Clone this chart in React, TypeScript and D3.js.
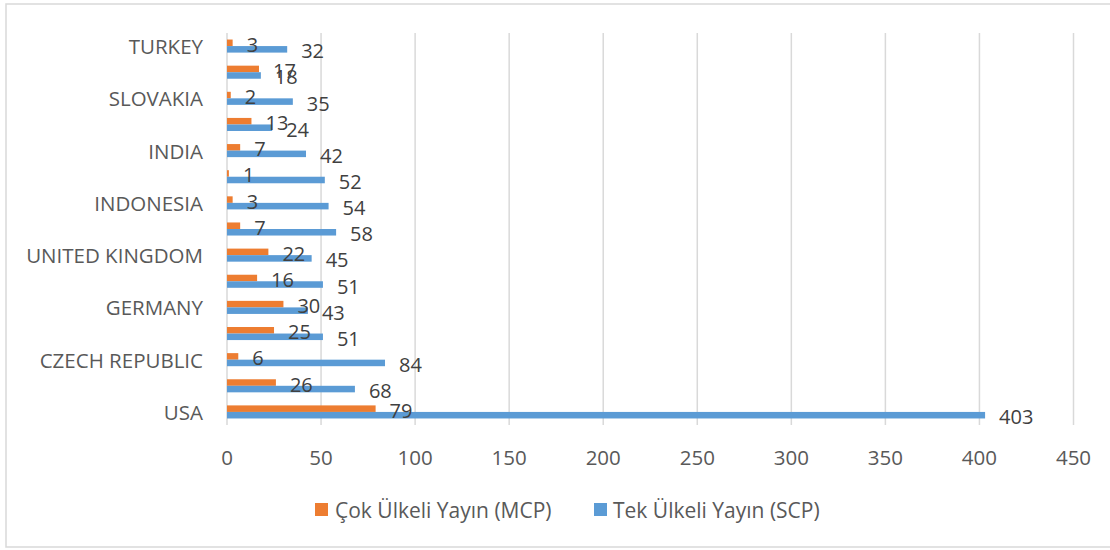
import React from "react";
import * as d3 from "d3";

// Categories from bottom (USA) to top (TURKEY); Excel shows every other label.
const categories = [
  "USA", "", "CZECH REPUBLIC", "", "GERMANY", "", "UNITED KINGDOM", "",
  "INDONESIA", "", "INDIA", "", "SLOVAKIA", "", "TURKEY",
];
const mcpValues = [79, 26, 6, 25, 30, 16, 22, 7, 3, 1, 7, 13, 2, 17, 3];
const scpValues = [403, 68, 84, 51, 43, 51, 45, 58, 54, 52, 42, 24, 35, 18, 32];
const xTicks = [0, 50, 100, 150, 200, 250, 300, 350, 400, 450];
const seriesNames = ["Çok Ülkeli Yayın (MCP)", "Tek Ülkeli Yayın (SCP)"];
const seriesColors = ["#ED7D31", "#5B9BD5"];

const W = 1110;
const H = 550;
const FONT = "'Open Sans', 'DejaVu Sans', sans-serif";

export default function App() {
  const x = d3.scaleLinear().domain([0, 450]).range([227, 1073.5]);
  const idx = d3.range(categories.length);
  const y = d3
    .scaleBand<number>()
    .domain(idx.slice().reverse())
    .range([33, 425])
    .paddingInner(0.5)
    .paddingOuter(0.25);
  const inner = d3
    .scaleBand<number>()
    .domain([0, 1])
    .range([0, y.bandwidth()]);
  const series = [mcpValues, scpValues];

  return (
    <svg
      width={W}
      height={H}
      style={{ position: "absolute", left: 0, top: 0, background: "#fff" }}
      fontFamily={FONT}
    >
      <rect x={6} y={4} width={W + 10} height={543} fill="#fff" stroke="#d9d9d9" strokeWidth={1.5} />
      {xTicks.map((t) => (
        <line key={t} x1={x(t)} x2={x(t)} y1={33} y2={425} stroke="#d9d9d9" strokeWidth={1.5} />
      ))}
      {series.map((vals, s) =>
        vals.map((v, i) => (
          <rect
            key={`${s}-${i}`}
            x={x(0)}
            y={(y(i) as number) + (inner(s) as number)}
            width={x(v) - x(0)}
            height={inner.bandwidth()}
            fill={seriesColors[s]}
          />
        ))
      )}
      {series.map((vals, s) =>
        vals.map((v, i) => (
          <text
            key={`l${s}-${i}`}
            x={x(v) + 14}
            y={(y(i) as number) + (inner(s) as number) + inner.bandwidth() / 2 + 1.5}
            dominantBaseline="central"
            fontSize={20}
            fill="#404040"
          >
            {v}
          </text>
        ))
      )}
      {categories.map((c, i) =>
        c ? (
          <text
            key={`c${i}`}
            x={203}
            y={(y(i) as number) + y.bandwidth() / 2}
            textAnchor="end"
            dominantBaseline="central"
            fontSize={20.5}
            fill="#595959"
          >
            {c}
          </text>
        ) : null
      )}
      {xTicks.map((t) => (
        <text
          key={`t${t}`}
          x={x(t)}
          y={457}
          textAnchor="middle"
          dominantBaseline="central"
          fontSize={20.5}
          fill="#595959"
        >
          {t}
        </text>
      ))}
      <g>
        <rect x={315} y={503} width={13} height={13} fill={seriesColors[0]} />
        <text x={335} y={510} dominantBaseline="central" fontSize={21} fill="#595959">
          {seriesNames[0]}
        </text>
        <rect x={594} y={503} width={13} height={13} fill={seriesColors[1]} />
        <text x={613} y={510} dominantBaseline="central" fontSize={21} fill="#595959">
          {seriesNames[1]}
        </text>
      </g>
    </svg>
  );
}
